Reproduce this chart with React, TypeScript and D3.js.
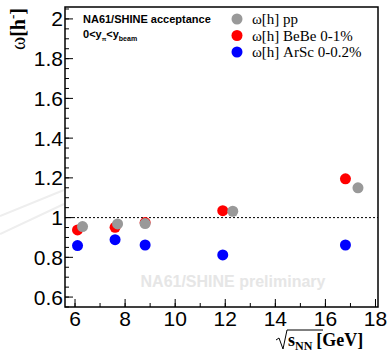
import React from "react";
import * as d3 from "d3";

// sqrt(s_NN) in GeV, omega[h-] values
const ppEnergy = [6.3, 7.7, 8.8, 12.3, 17.3];
const ppOmega = [0.955, 0.968, 0.97, 1.032, 1.15];
const beBeEnergy = [6.1, 7.6, 8.8, 11.9, 16.8];
const beBeOmega = [0.938, 0.951, 0.975, 1.035, 1.195];
const arScEnergy = [6.1, 7.6, 8.8, 11.9, 16.8];
const arScOmega = [0.859, 0.889, 0.862, 0.812, 0.862];

const xTicks = [6, 8, 10, 12, 14, 16, 18];
const yTicks = [0.6, 0.8, 1, 1.2, 1.4, 1.6, 1.8, 2];

const legendItems = [
  { label: "ω[h] pp", color: "#999999" },
  { label: "ω[h] BeBe 0-1%", color: "#ff0000" },
  { label: "ω[h] ArSc 0-0.2%", color: "#0000ff" },
];

const W = 390;
const H = 354;
const frame = { left: 65, right: 378, top: 7, bottom: 307 };
const sans = "'Liberation Sans', Arial, Helvetica, sans-serif";
const serif = "'Liberation Serif', 'Times New Roman', serif";

export default function App() {
  const x = d3.scaleLinear().domain([5.6, 18.1]).range([frame.left, frame.right]);
  const y = d3.scaleLinear().domain([0.55, 2.06]).range([frame.bottom, frame.top]);

  const xMinor = d3.range(6, 18.5, 1).filter((v) => v > 5.6 && v < 18.1);
  const yMinor = d3.range(0.55, 2.06, 0.05).map((v) => +v.toFixed(2));

  const series = [
    { xs: beBeEnergy, ys: beBeOmega, color: "#ff0000" },
    { xs: ppEnergy, ys: ppOmega, color: "#999999" },
    { xs: arScEnergy, ys: arScOmega, color: "#0000ff" },
  ];

  const fmt = (v: number) => (Number.isInteger(v) ? String(v) : v.toFixed(1));

  return (
    <svg
      width={W}
      height={H}
      style={{ position: "absolute", left: 0, top: 0, background: "#fff" }}
    >
      {/* faint background watermark lines */}
      <g stroke="#eeeeee" strokeWidth={2} fill="none">
        <line x1={0} y1={234} x2={64} y2={204} />
        <line x1={0} y1={216} x2={64} y2={190} />
      </g>
      <text
        x={233}
        y={287}
        textAnchor="middle"
        fontFamily={sans}
        fontWeight="bold"
        fontSize={16}
        fill="#e6e6e6"
      >
        NA61/SHINE preliminary
      </text>

      {/* y ticks */}
      {yMinor.map((v) => (
        <line key={"ym" + v} x1={frame.left} x2={frame.left + 4} y1={y(v)} y2={y(v)} stroke="#000" />
      ))}
      {yTicks.map((v) => (
        <g key={"y" + v}>
          <line x1={frame.left} x2={frame.left + 8} y1={y(v)} y2={y(v)} stroke="#000" />
          <text
            x={frame.left - 2}
            y={y(v) + 7.5}
            textAnchor="end"
            fontFamily={sans}
            fontSize={21}
          >
            {fmt(v)}
          </text>
        </g>
      ))}

      {/* x ticks */}
      {xMinor.map((v) => (
        <line key={"xm" + v} x1={x(v)} x2={x(v)} y1={frame.bottom} y2={frame.bottom - 4} stroke="#000" />
      ))}
      {xTicks.map((v) => (
        <g key={"x" + v}>
          <line x1={x(v)} x2={x(v)} y1={frame.bottom} y2={frame.bottom - 8} stroke="#000" />
          <text x={x(v)} y={326} textAnchor="middle" fontFamily={sans} fontSize={21}>
            {v}
          </text>
        </g>
      ))}

      {/* reference line at 1 */}
      <line
        x1={frame.left}
        x2={frame.right}
        y1={y(1)}
        y2={y(1)}
        stroke="#000"
        strokeWidth={1}
        strokeDasharray="2,2"
      />

      {/* data */}
      {series.map((s, i) =>
        s.xs.map((e, j) => (
          <circle key={i + "-" + j} cx={x(e)} cy={y(s.ys[j])} r={5.5} fill={s.color} />
        ))
      )}

      {/* frame */}
      <rect
        x={frame.left}
        y={frame.top}
        width={frame.right - frame.left}
        height={frame.bottom - frame.top}
        fill="none"
        stroke="#000"
        strokeWidth={1.5}
      />

      {/* header text */}
      <text x={83} y={23} fontFamily={sans} fontWeight="bold" fontSize={11}>
        NA61/SHINE acceptance
      </text>
      <text x={83} y={38} fontFamily={sans} fontWeight="bold" fontSize={11}>
        0{"<"}y
        <tspan fontSize={6} dy={3}>π</tspan>
        <tspan dy={-3}>{"<"}y</tspan>
        <tspan fontSize={7} dy={3}>beam</tspan>
      </text>

      {/* legend */}
      {legendItems.map((it, i) => (
        <g key={it.label}>
          <circle cx={237} cy={19 + i * 16.5} r={5.5} fill={it.color} />
          <text x={252} y={24 + i * 16.5} fontFamily={serif} fontSize={15}>
            {it.label}
          </text>
        </g>
      ))}

      {/* x title */}
      <path d="M276,340 L279,338 L283,349 L287,330 L323,330" fill="none" stroke="#000" strokeWidth={1} />
      <text x={288} y={346} fontFamily={serif} fontWeight="bold" fontSize={18}>
        s<tspan fontSize={12} dy={4}>NN</tspan>
        <tspan dy={-4} dx={4}>[GeV]</tspan>
      </text>

      {/* y title */}
      <text
        transform="translate(25,8) rotate(-90)"
        textAnchor="end"
        fontFamily={serif}
        fontSize={20}
      >
        ω<tspan fontWeight="bold">[h</tspan>
        <tspan fontWeight="bold" fontSize={13} dy={-8}>-</tspan>
        <tspan fontWeight="bold" dy={8}>]</tspan>
      </text>
    </svg>
  );
}
